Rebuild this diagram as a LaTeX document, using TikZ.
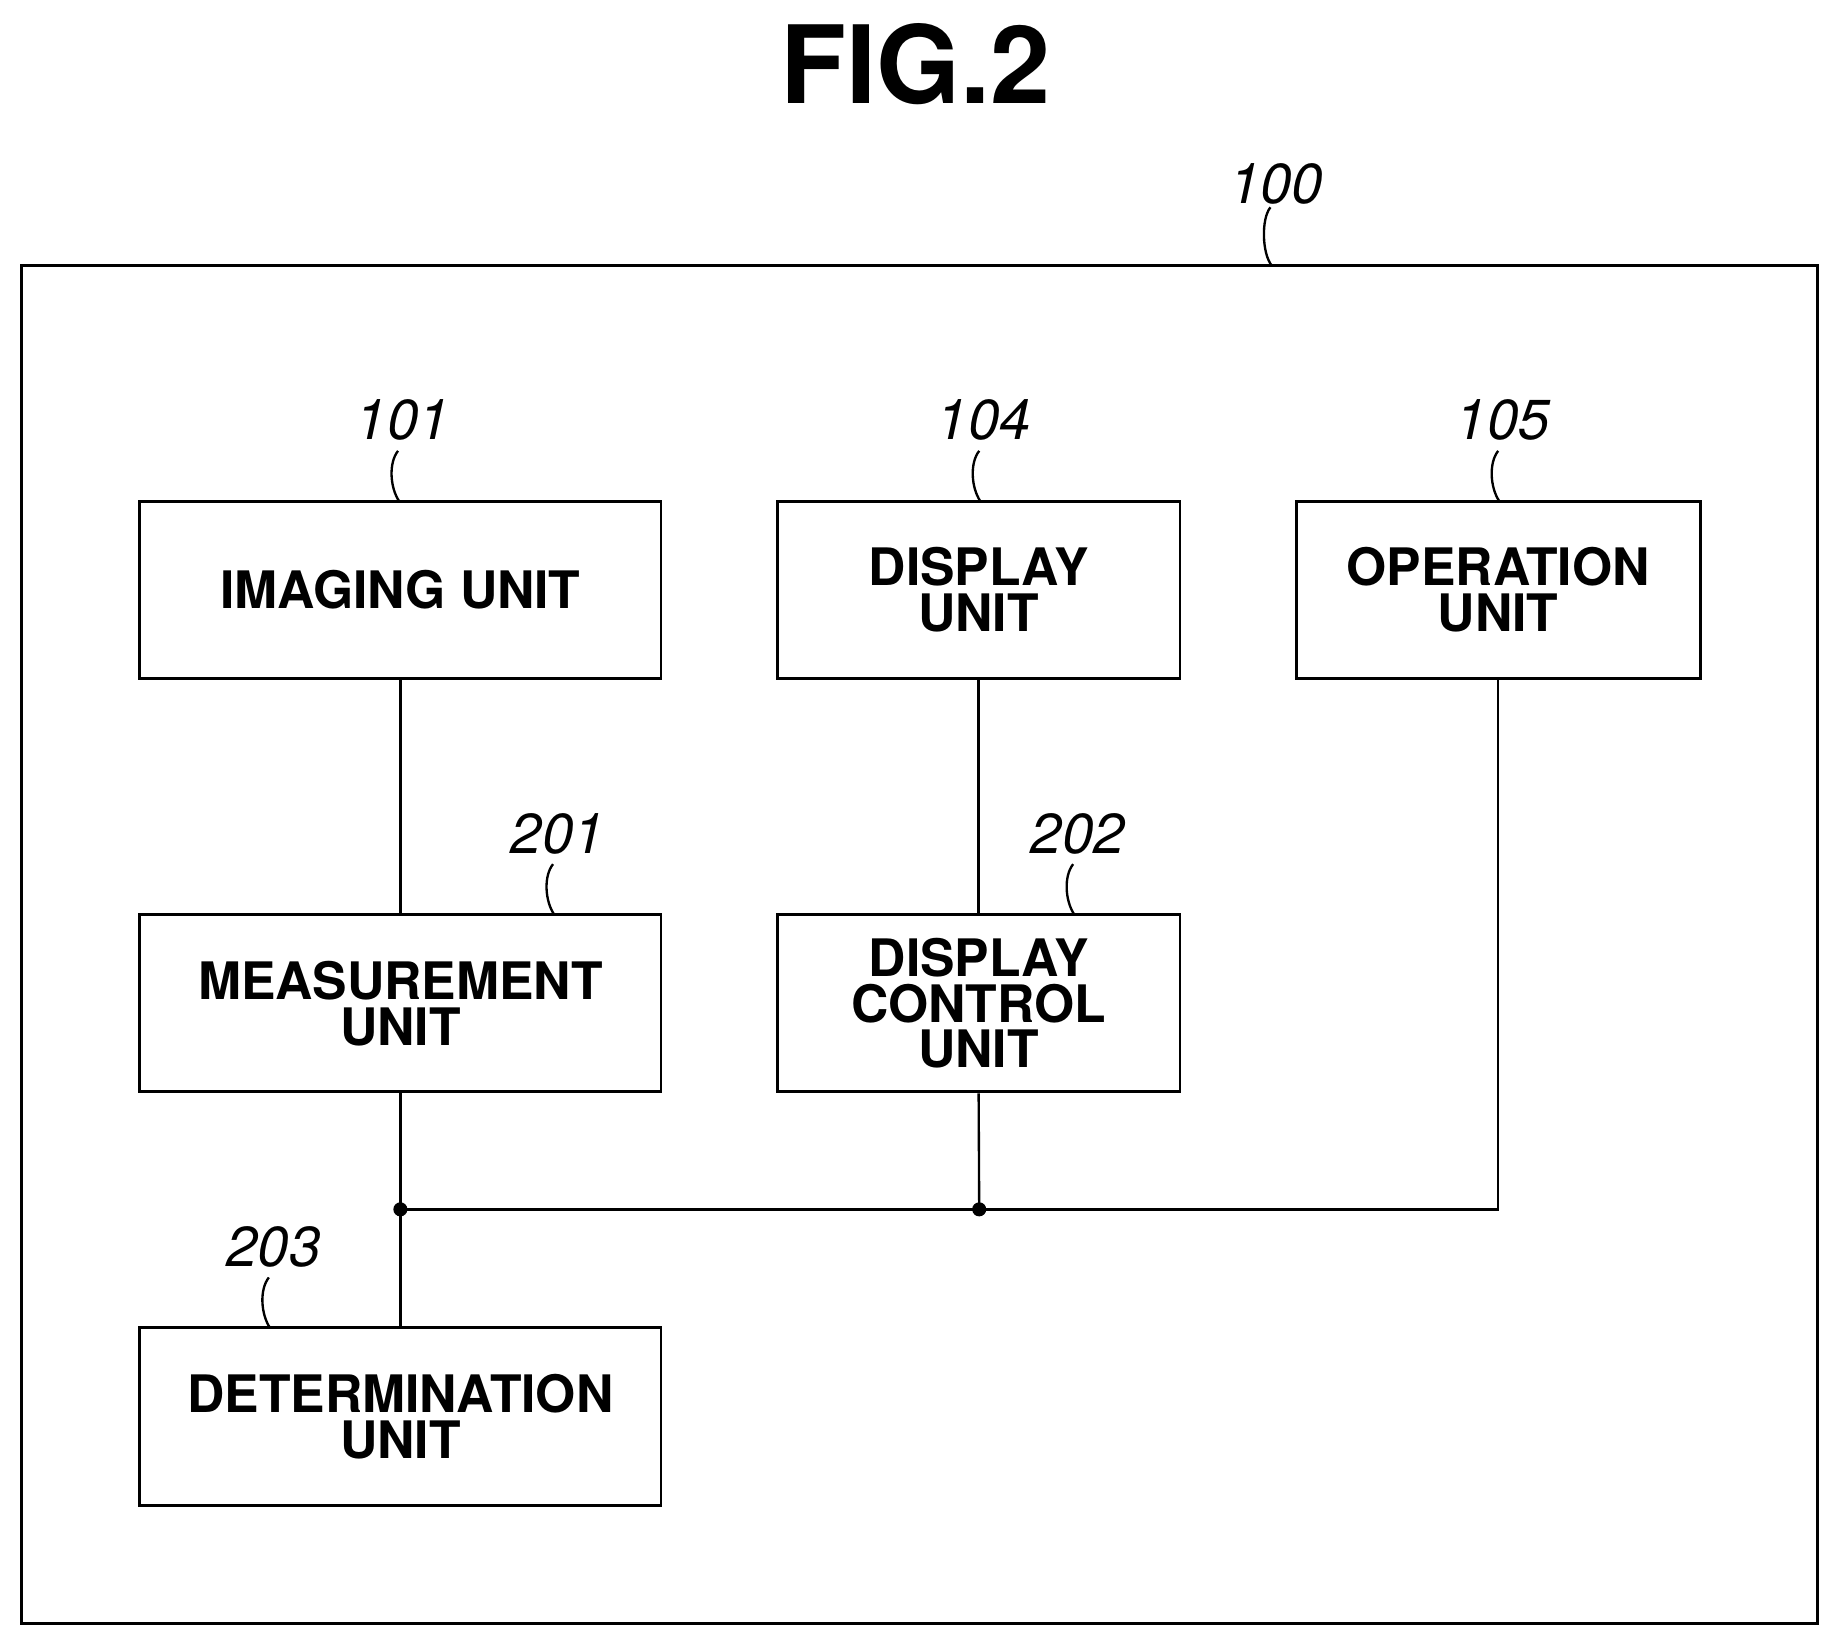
\documentclass[tikz,border=0pt]{standalone}
\usepackage{fontspec}
\setmainfont{TeX Gyre Heros}
\begin{document}
\begin{tikzpicture}[x=1pt,y=-1pt,
  box/.style={draw,line width=2.5pt,inner sep=0pt,font=\fontsize{44}{39}\selectfont\bfseries,align=center},
  lbl/.style={font=\fontsize{48}{50}\selectfont\itshape,inner sep=0pt},
  ln/.style={line width=2pt},
  dot/.style={circle,fill,inner sep=0pt,minimum size=12pt}]
\useasboundingbox (0,0) rectangle (1568,1403);
\node[font=\fontsize{92}{92}\selectfont\bfseries] (title) at (780,55) {FIG.2};
\draw[line width=2.5pt] (18,226) rectangle (1548,1383);
\coordinate (frametop) at (1083,226);
\node[lbl] (l100) at (1087,157) {100};
\draw[ln] (l100.south) ++(-5,2) .. controls +(-8,10) and +(-8,-10) .. (frametop);
% boxes
\node[box,minimum width=444pt,minimum height=151pt] (b101) at (341,502.5) {IMAGING UNIT};
\node[box,minimum width=343pt,minimum height=151pt] (b104) at (833.5,502.5) {DISPLAY\\UNIT};
\node[box,minimum width=344pt,minimum height=151pt] (b105) at (1276,502.5) {OPERATION\\UNIT};
\node[box,minimum width=444pt,minimum height=151pt] (b201) at (341,854.5) {MEASUREMENT\\UNIT};
\node[box,minimum width=343pt,minimum height=151pt] (b202) at (833.5,854.5) {DISPLAY\\CONTROL\\UNIT};
\node[box,minimum width=444pt,minimum height=151pt] (b203) at (341,1206.5) {DETERMINATION\\UNIT};
% labels
\foreach \n/\t/\x/\y/\bx in {l101/101/343/358/b101, l104/104/838/358/b104, l105/105/1280/358/b105,
  l201/201/475/710/b201, l202/202/918/710/b202, l203/203/233/1062/b203}{
  \node[lbl] (\n) at (\x,\y) {\t};
  \coordinate (\n e) at (\x-3,\y+69);
  \draw[ln] (\x-4,\y+26) .. controls +(-8,10) and +(-8,-12) .. (\n e);
}
% connections
\coordinate (j1) at (341,1030);
\coordinate (j2) at (834,1030);
\coordinate (jc) at (1276,1030);
\draw[ln] (b101.south) -- (b201.north);
\draw[ln] (b104.south) -- (b202.north);
\draw[ln] (b201.south) -- (b203.north);
\draw[ln] (b202.south) -- (j2);
\draw[ln] (b105.south) -- (jc) -- (j1);
\node[dot] (d1) at (j1) {};
\node[dot] (d2) at (j2) {};
\end{tikzpicture}
\end{document}
